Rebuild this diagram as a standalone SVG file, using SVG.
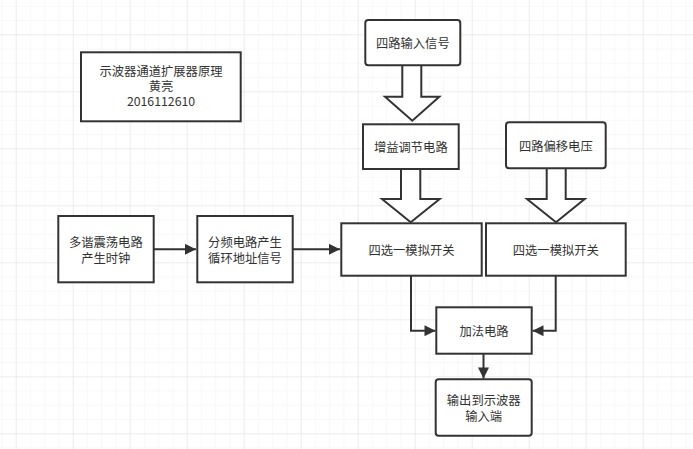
<svg xmlns="http://www.w3.org/2000/svg" width="693" height="449" viewBox="0 0 693 449">
<defs>
<pattern id="minor" x="1.45" y="5.8" width="14.25" height="14.25" patternUnits="userSpaceOnUse">
<path d="M0 0H14.25M0 0V14.25" fill="none" stroke="#f1f1f1" stroke-width="1"/>
</pattern>
<pattern id="major" x="15.7" y="34.3" width="57" height="57" patternUnits="userSpaceOnUse">
<path d="M0 0H57M0 0V57" fill="none" stroke="#e4e4e4" stroke-width="1"/>
</pattern>
<marker id="ah" viewBox="0 0 10 10" refX="10" refY="5" markerWidth="15" markerHeight="11" markerUnits="userSpaceOnUse" orient="auto">
<path d="M0 0L10 5L0 10Z" fill="#333"/>
</marker>
<style>
.box{fill:#fff;stroke:#333;stroke-width:2}
.blk{fill:#fff;stroke:#333;stroke-width:2;stroke-linejoin:miter}
.ln{fill:none;stroke:#333;stroke-width:2}
text{font-family:"Noto Sans CJK SC","Noto Sans",sans-serif;font-size:12.3px;fill:#333;text-anchor:middle;dominant-baseline:central}
</style>
</defs>
<rect width="693" height="449" fill="#fff"/>
<rect width="693" height="449" fill="url(#minor)"/>
<rect width="693" height="449" fill="url(#major)"/>

<g id="connectors">
<path class="blk" d="M402.3 65V96.7H385L412.3 120.7L439.3 96.7H421.3V65"/>
<path class="blk" d="M401 169V199H382L410.7 222.3L439.7 199H420.3V169"/>
<path class="blk" d="M546.7 168V199H527L556 222.3L584.7 199H565.7V168"/>
<path class="ln" d="M154 249.3H196" marker-end="url(#ah)"/>
<path class="ln" d="M293 249.3H340" marker-end="url(#ah)"/>
<path class="ln" d="M411 276V330.7H435.5" marker-end="url(#ah)"/>
<path class="ln" d="M555.7 276V330.7H532.5" marker-end="url(#ah)"/>
<path class="ln" d="M483.5 354V378.5" marker-end="url(#ah)"/>
</g>

<g id="title">
<rect class="box" x="81" y="52.3" width="159.7" height="69"/>
<text x="161" y="71">示波器通道扩展器原理</text>
<text x="161" y="86.3">黄亮</text>
<text x="161" y="100.5">2016112610</text>
</g>
<g id="input4">
<rect class="box" x="365.3" y="20" width="95" height="45.3" rx="3"/>
<text x="412.8" y="43">四路输入信号</text>
</g>
<g id="gain">
<rect class="box" x="363" y="124.3" width="95.7" height="44.7"/>
<text x="410.8" y="146.8">增益调节电路</text>
</g>
<g id="offset">
<rect class="box" x="506" y="122.3" width="99.7" height="46" rx="3"/>
<text x="555.8" y="145.5">四路偏移电压</text>
</g>
<g id="osc">
<rect class="box" x="58.3" y="216" width="95.4" height="66.3"/>
<text x="105.8" y="242">多谐震荡电路</text>
<text x="105.8" y="258">产生时钟</text>
</g>
<g id="divider">
<rect class="box" x="197.3" y="216" width="95.4" height="66.3"/>
<text x="245" y="242">分频电路产生</text>
<text x="245" y="258">循环地址信号</text>
</g>
<g id="mux1">
<rect class="box" x="341.3" y="223.3" width="140.4" height="52.4"/>
<text x="411.5" y="250">四选一模拟开关</text>
</g>
<g id="mux2">
<rect class="box" x="486" y="223.3" width="139.7" height="52.4"/>
<text x="555.8" y="250">四选一模拟开关</text>
</g>
<g id="adder">
<rect class="box" x="436.3" y="307.3" width="95.4" height="46.4"/>
<text x="484" y="330.7">加法电路</text>
</g>
<g id="output">
<rect class="box" x="435.7" y="379.3" width="96" height="56.4" rx="3"/>
<text x="483.7" y="400">输出到示波器</text>
<text x="483.7" y="416">输入端</text>
</g>
</svg>
